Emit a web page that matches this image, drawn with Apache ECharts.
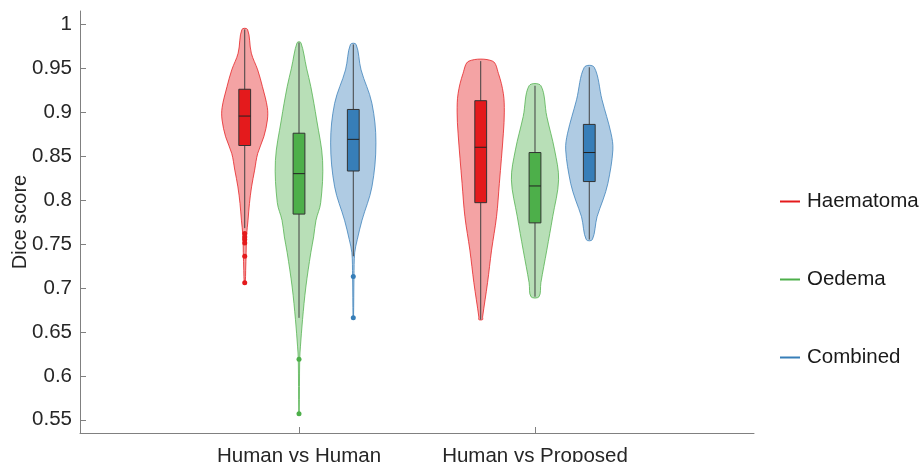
<!DOCTYPE html>
<html>
<head>
<meta charset="utf-8">
<script src="https://cdn.jsdelivr.net/npm/echarts@6/dist/echarts.min.js"></script>
<style>html,body{margin:0;padding:0;background:#fff}#c{width:921px;height:462px}</style>
</head>
<body>
<div id="c"></div>
<script>
// ---- data ----
const groups = ['Human vs Human', 'Human vs Proposed'];
const seriesNames = ['Haematoma', 'Oedema', 'Combined'];
const yTicks = [0.55, 0.6, 0.65, 0.7, 0.75, 0.8, 0.85, 0.9, 0.95, 1];

// violin profiles: [value, relative density (1 = widest)]
const violinHaematoma = [
  [[0.994,0.12],[0.967,0.28],[0.948,0.55],[0.929,0.75],[0.905,0.96],[0.891,0.96],[0.872,0.81],[0.853,0.55],[0.834,0.42],[0.815,0.29],[0.796,0.2],[0.777,0.14],[0.76,0.08],[0.74,0.06],[0.72,0.04],[0.706,0.02]],
  [[0.958,0.5],[0.944,0.75],[0.921,0.96],[0.9,1.0],[0.876,0.96],[0.819,0.79],[0.781,0.67],[0.743,0.46],[0.706,0.29],[0.667,0.08],[0.664,0.08]]
];
const violinOedema = [
  [[0.979,0.08],[0.95,0.32],[0.929,0.5],[0.891,0.75],[0.845,1.0],[0.797,0.92],[0.777,0.72],[0.758,0.62],[0.74,0.5],[0.701,0.29],[0.664,0.15],[0.633,0.06],[0.619,0.03],[0.557,0.01]],
  [[0.930,0.25],[0.895,0.5],[0.857,0.83],[0.823,1.0],[0.781,0.75],[0.743,0.5],[0.706,0.25],[0.69,0.17]]
];
const violinCombined = [
  [[0.977,0.12],[0.948,0.33],[0.91,0.79],[0.865,0.96],[0.815,0.79],[0.777,0.37],[0.755,0.17],[0.74,0.06],[0.713,0.03],[0.666,0.01]],
  [[0.951,0.21],[0.914,0.54],[0.876,0.92],[0.857,1.0],[0.819,0.79],[0.8,0.58],[0.781,0.33],[0.755,0.13]]
];

// box stats: [lower whisker, q1, median, q3, upper whisker]
const boxHaematoma = [[0.768,0.862,0.8955,0.926,0.994],[0.664,0.797,0.860,0.913,0.958]];
const boxOedema    = [[0.666,0.784,0.830,0.876,0.979],[0.690,0.774,0.816,0.854,0.930]];
const boxCombined  = [[0.736,0.833,0.869,0.903,0.977],[0.755,0.821,0.854,0.886,0.951]];

const outliersHaematoma = [[0.762,0.758,0.755,0.751,0.736,0.706],[]];
const outliersOedema    = [[0.619,0.557],[]];
const outliersCombined  = [[0.713,0.666],[]];

// ---- styling / layout ----
const colors = ['#e41a1c', '#4daf4a', '#377eb8'];
const offsets = [-0.23, 0, 0.23];
const maxHalf = 0.1;   // x units
const boxHalf = 0.025; // x units
const violins = [violinHaematoma, violinOedema, violinCombined];
const boxes = [boxHaematoma, boxOedema, boxCombined];
const outliers = [outliersHaematoma, outliersOedema, outliersCombined];
const FONT = '"Liberation Sans", Arial, Helvetica, sans-serif';

function makeSeries(si) {
  return {
    name: seriesNames[si],
    type: 'custom',
    itemStyle: { color: colors[si] },
    data: groups.map((g, gi) => [gi + 1]),
    encode: { x: 0 },
    renderItem: function (params, api) {
      const gi = params.dataIndex;
      const xc = gi + 1 + offsets[si];
      const col = colors[si];
      const prof = violins[si][gi];
      const pts = [];
      prof.forEach(p => pts.push(api.coord([xc - p[1] * maxHalf, p[0]])));
      for (let i = prof.length - 1; i >= 0; i--) pts.push(api.coord([xc + prof[i][1] * maxHalf, prof[i][0]]));
      const b = boxes[si][gi];
      const children = [];
      children.push({ type: 'polygon', shape: { points: pts, smooth: 0.35 },
        style: { fill: col, opacity: 1, fillOpacity: 0.4, stroke: col, lineWidth: 1, strokeOpacity: 0.75 } });
      const wTop = api.coord([xc, b[4]]), wBot = api.coord([xc, b[0]]);
      children.push({ type: 'line', shape: { x1: wTop[0], y1: wTop[1], x2: wBot[0], y2: wBot[1] },
        style: { stroke: '#404040', lineWidth: 1 } });
      const tl = api.coord([xc - boxHalf, b[3]]), br = api.coord([xc + boxHalf, b[1]]);
      children.push({ type: 'rect', shape: { x: tl[0], y: tl[1], width: br[0] - tl[0], height: br[1] - tl[1] },
        style: { fill: col, stroke: '#333', lineWidth: 1 } });
      const m1 = api.coord([xc - boxHalf, b[2]]), m2 = api.coord([xc + boxHalf, b[2]]);
      children.push({ type: 'line', shape: { x1: m1[0], y1: m1[1], x2: m2[0], y2: m2[1] },
        style: { stroke: '#222', lineWidth: 1 } });
      outliers[si][gi].forEach(v => {
        const c = api.coord([xc, v]);
        children.push({ type: 'circle', shape: { cx: c[0], cy: c[1], r: 2.5 }, style: { fill: col } });
      });
      return { type: 'group', children: children };
    }
  };
}

const chart = echarts.init(document.getElementById('c'), null, { renderer: 'canvas' });
chart.setOption({
  animation: false,
  backgroundColor: '#fff',
  grid: { left: 80, right: 167, top: 11, bottom: 29, containLabel: false, outerBoundsMode: 'none' },
  legend: {
    orient: 'vertical', left: 775, top: 186, itemGap: 57,
    itemWidth: 20, itemHeight: 2, icon: 'rect',
    textStyle: { fontSize: 20.5, fontFamily: FONT, color: '#1a1a1a', padding: [0, 0, 0, 2] },
    data: seriesNames
  },
  xAxis: {
    type: 'value', min: 0.072, max: 2.928,
    splitLine: { show: false },
    axisLine: { lineStyle: { color: '#808080' } },
    axisTick: { inside: true, length: 6, customValues: [1, 2], lineStyle: { color: '#808080' } },
    axisLabel: { customValues: [1, 2], formatter: v => groups[Math.round(v) - 1] || '',
      fontSize: 20.5, fontFamily: FONT, color: '#262626', margin: 13 }
  },
  yAxis: {
    type: 'value', min: 0.535, max: 1.015,
    name: 'Dice score', nameLocation: 'middle', nameGap: 50, nameMoveOverlap: false,
    nameTextStyle: { fontSize: 20, fontFamily: FONT, color: '#262626' },
    splitLine: { show: false },
    axisLine: { show: true, lineStyle: { color: '#808080' } },
    axisTick: { show: true, inside: true, length: 6, customValues: yTicks, lineStyle: { color: '#808080' } },
    axisLabel: { customValues: yTicks, formatter: v => String(Math.round(v * 100) / 100),
      fontSize: 20.5, fontFamily: FONT, color: '#262626', margin: 8 }
  },
  series: [makeSeries(0), makeSeries(1), makeSeries(2)]
});
</script>
</body>
</html>
